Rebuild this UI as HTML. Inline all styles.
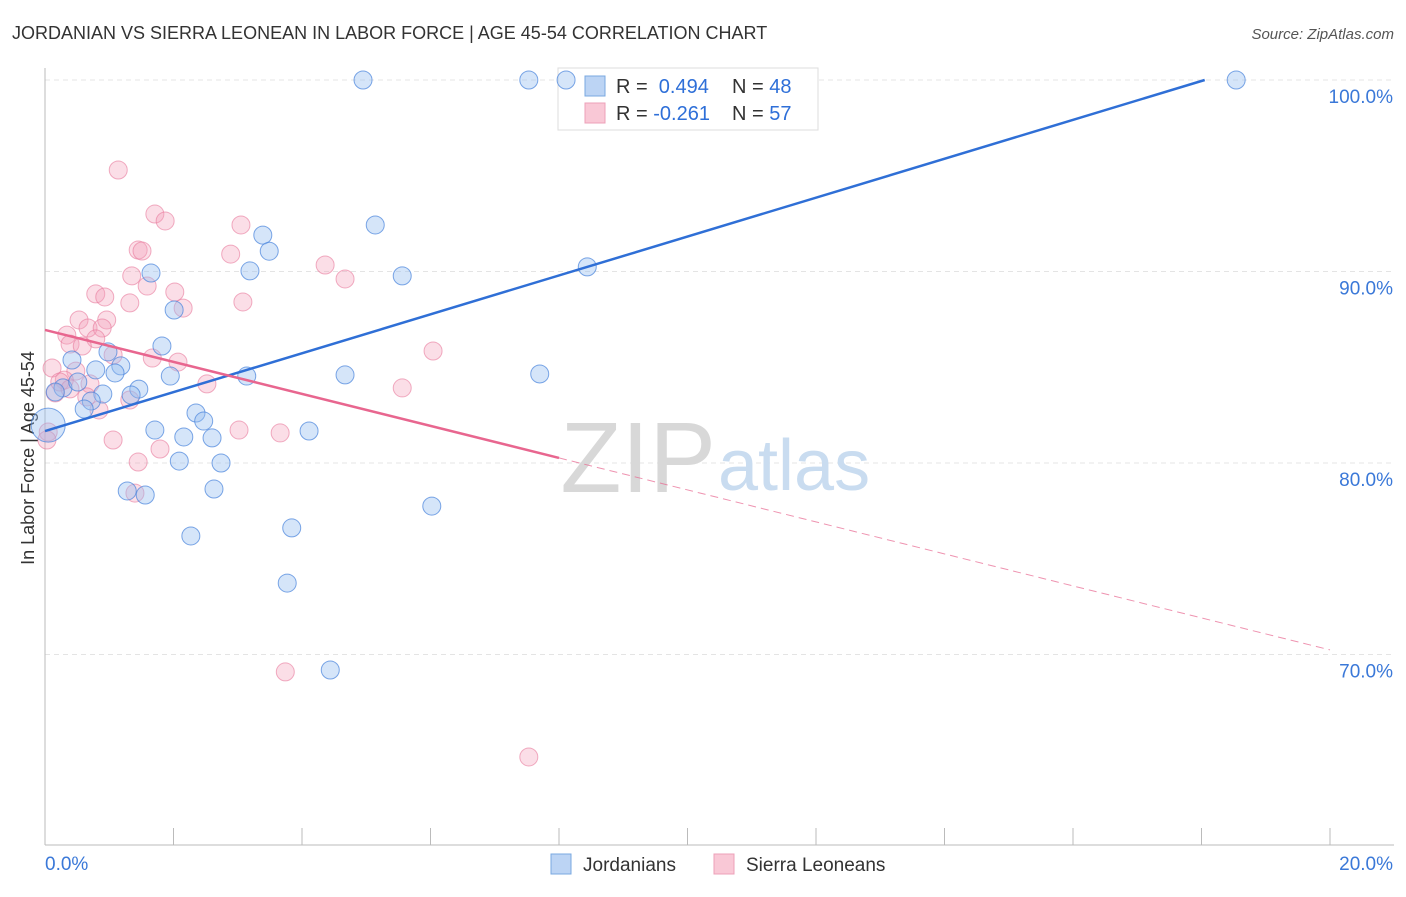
<!DOCTYPE html>
<html><head><meta charset="utf-8"><style>
body{margin:0;background:#fff;font-family:"Liberation Sans",sans-serif}
svg text{font-family:"Liberation Sans",sans-serif}
</style></head><body>
<svg id="chart" width="1406" height="892" xmlns="http://www.w3.org/2000/svg">
<text x="12" y="39" font-size="18" fill="#333">JORDANIAN VS SIERRA LEONEAN IN LABOR FORCE | AGE 45-54 CORRELATION CHART</text>
<text x="1394" y="39" font-size="15" fill="#555" text-anchor="end" font-style="italic">Source: ZipAtlas.com</text>
<text x="34" y="458" font-size="18" fill="#333" text-anchor="middle" transform="rotate(-90 34 458)">In Labor Force | Age 45-54</text>
<g id="grid"></g>
<g id="axes"></g>
<text x="716" y="492" font-size="100" fill="#d8d8d8" text-anchor="end" font-family="Liberation Serif">ZIP</text>
<text x="718" y="490" font-size="72" fill="#c9dcf0">atlas</text>
<g>
<rect x="558" y="68" width="260" height="62" fill="#fff" stroke="#ddd"/>
<rect x="585" y="76" width="20" height="20" fill="#bcd4f4" stroke="#7aa8e0"/>
<rect x="585" y="103" width="20" height="20" fill="#f9c8d6" stroke="#eda0b8"/>
<text x="616" y="93" font-size="20" fill="#333">R = <tspan fill="#2e6fd8">&#160;0.494</tspan><tspan x="732">N = </tspan><tspan fill="#2e6fd8">48</tspan></text>
<text x="616" y="120" font-size="20" fill="#333">R = <tspan fill="#2e6fd8">-0.261</tspan><tspan x="732">N = </tspan><tspan fill="#2e6fd8">57</tspan></text>
</g>
<g id="pts"></g>
<g id="trend"></g>
<g>
<rect x="551" y="854" width="20" height="20" fill="#bcd4f4" stroke="#7aa8e0"/>
<text x="583" y="871" font-size="19" fill="#333">Jordanians</text>
<rect x="714" y="854" width="20" height="20" fill="#f9c8d6" stroke="#eda0b8"/>
<text x="746" y="871" font-size="19" fill="#333">Sierra Leoneans</text>
</g>
</svg>
<script>
const blueX=[4.95,7.53,8.11,18.54,3.39,3.49,5.14,3.19,5.56,8.44,1.65,2.01,1.82,0.98,0.42,0.79,1.18,1.09,1.95,3.14,4.67,7.70,1.46,1.34,0.90,0.28,0.16,0.51,0.72,0.61,2.35,2.47,1.71,2.16,2.60,4.11,2.09,2.74,1.28,1.56,2.63,6.02,3.84,2.27,3.77,4.44,0.05];
const blueY=[100,100,100,100,91.9,91.06,92.43,90.03,89.77,90.24,89.92,87.99,86.11,85.8,85.38,84.86,85.07,84.7,84.54,84.54,84.6,84.65,83.86,83.55,83.6,83.92,83.71,84.23,83.24,82.82,82.61,82.19,81.72,81.36,81.31,81.67,80.1,80.0,78.54,78.33,78.64,77.75,76.61,76.19,73.73,69.19,81.98];
const pinkX=[1.14,1.71,1.87,3.05,1.45,1.51,2.89,4.36,4.67,1.35,1.59,2.02,0.79,0.93,1.32,3.08,2.15,0.96,0.53,0.67,0.89,0.34,0.79,0.39,0.58,1.06,1.67,2.07,6.04,0.11,0.48,0.70,0.30,2.52,5.56,0.16,0.65,1.32,0.84,3.02,3.66,1.06,1.45,1.79,1.40,3.74,7.53,0.05,0.03,0.23,0.39];
const pinkY=[95.3,93.0,92.64,92.43,91.12,91.07,90.91,90.34,89.61,89.77,89.24,88.93,88.83,88.67,88.36,88.41,88.09,87.47,87.47,87.05,87.05,86.68,86.48,86.21,86.11,85.64,85.48,85.27,85.85,84.96,84.8,84.13,84.33,84.13,83.92,83.66,83.45,83.29,82.77,81.72,81.57,81.2,80.05,80.73,78.43,69.09,64.65,81.62,81.2,84.23,83.87];
const yTicks=[100,90,80,70];
const xTickLabels=["0.0%","20.0%"];
const blueTrend=[81.67,101.98];
const pinkTrend=[86.95,70.24];
const sx=v=>45+v*64.25, sy=v=>80+(100-v)*19.15;
const NS="http://www.w3.org/2000/svg";
function mk(t,a,p){const e=document.createElementNS(NS,t);for(const k in a)e.setAttribute(k,a[k]);p.appendChild(e);return e;}
const grid=document.getElementById('grid'),axes=document.getElementById('axes');
yTicks.forEach(v=>{
 const l=mk('line',{x1:45,x2:1394,y1:sy(v),y2:sy(v),stroke:'#e4e4e4','stroke-dasharray':'5,4'},grid);
 
 
 const t=mk('text',{x:1393,y:sy(v)+23,'font-size':19,fill:'#3a78d8','text-anchor':'end'},axes);
 t.textContent=v.toFixed(1)+'%';
 
 
});
mk('line',{x1:45,x2:45,y1:68,y2:845,stroke:'#bbb'},axes);
mk('line',{x1:45,x2:1394,y1:845,y2:845,stroke:'#bbb'},axes);
for(let i=0;i<=10;i++){mk('line',{x1:sx(i*2),x2:sx(i*2),y1:828,y2:845,stroke:'#bbb'},axes);}
const t0=mk('text',{x:45,y:870,'font-size':19,fill:'#3a78d8'},axes);t0.textContent=xTickLabels[0];


const t1=mk('text',{x:1393,y:870,'font-size':19,fill:'#3a78d8','text-anchor':'end'},axes);t1.textContent=xTickLabels[1];


const pts=document.getElementById('pts');
pinkX.forEach((x,i)=>{const c=mk('circle',{cx:sx(x),cy:sy(pinkY[i]),r:9,fill:'rgba(244,160,185,0.35)',stroke:'rgba(232,120,155,0.6)','stroke-width':1},pts);
 
 });
blueX.forEach((x,i)=>{const big=i===blueX.length-1;const c=mk('circle',{cx:sx(x),cy:sy(blueY[i]),r:big?17:9,fill:'rgba(150,190,240,0.4)',stroke:'rgba(70,130,220,0.7)','stroke-width':1},pts);
 
 });
const tr=document.getElementById('trend');
const bAt=x=>blueTrend[0]+(blueTrend[1]-blueTrend[0])*x/20;
const b=mk('line',{x1:sx(0),y1:sy(bAt(0)),x2:sx(18.05),y2:sy(bAt(18.05)),stroke:'#2f6fd6','stroke-width':2.5},tr);


const pAt=x=>pinkTrend[0]+(pinkTrend[1]-pinkTrend[0])*x/20;
const p1=mk('line',{x1:sx(0),y1:sy(pAt(0)),x2:sx(8),y2:sy(pAt(8)),stroke:'#e8668f','stroke-width':2.5},tr);


const p2=mk('line',{x1:sx(8),y1:sy(pAt(8)),x2:sx(20),y2:sy(pAt(20)),stroke:'#e8668f','stroke-width':1,'stroke-dasharray':'8,5','opacity':0.7},tr);


</script>
</body></html>
